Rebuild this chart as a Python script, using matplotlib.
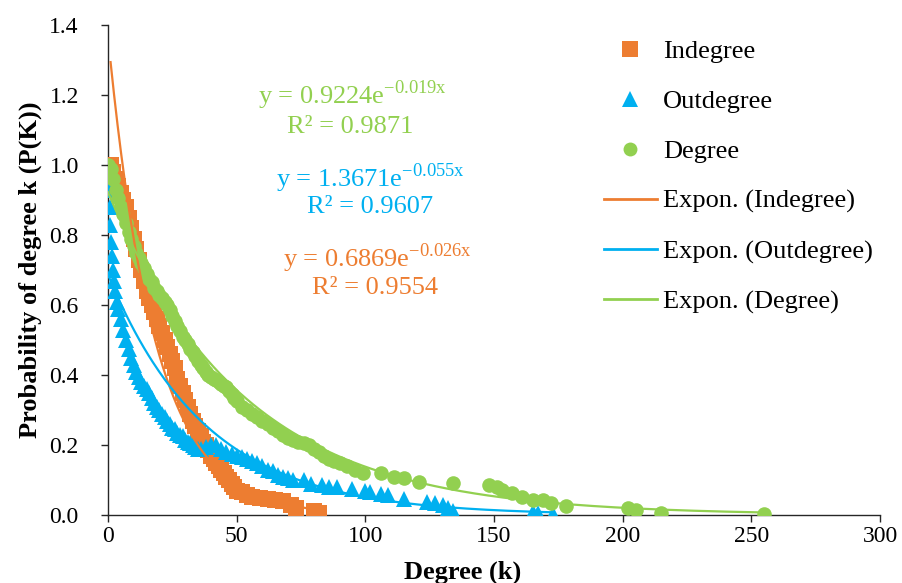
import numpy as np
import matplotlib
matplotlib.use("Agg")
import matplotlib.pyplot as plt
from matplotlib.lines import Line2D
from matplotlib.ticker import FormatStrFormatter

# colours of the three series
ORANGE = "#ED7D31"
BLUE = "#00B0F0"
GREEN = "#92D050"

# Indegree (orange squares)
in_x = [0, 1, 2, 3, 4, 5, 6, 7, 8, 9,
        10, 11, 12, 13, 14, 15, 16, 17, 18, 19,
        20, 21, 22, 23, 24, 25, 26, 27, 28, 29,
        30, 31, 32, 33, 34, 35, 36, 37, 38, 39,
        40, 41, 42, 43, 44, 45, 46, 47, 48, 49,
        50, 52, 54, 56, 59, 62, 65, 68, 71, 73,
        80, 82]
in_y = [1.00, 1.00, 0.98, 0.96, 0.94, 0.92, 0.90, 0.88, 0.85, 0.82,
        0.79, 0.76, 0.73, 0.70, 0.67, 0.64, 0.62, 0.60, 0.58, 0.56,
        0.54, 0.52, 0.50, 0.48, 0.46, 0.44, 0.42, 0.39, 0.37, 0.35,
        0.33, 0.31, 0.29, 0.27, 0.255, 0.24, 0.225, 0.21, 0.20, 0.185,
        0.17, 0.16, 0.15, 0.14, 0.13, 0.12, 0.11, 0.10, 0.09, 0.08,
        0.07, 0.065, 0.058, 0.052, 0.048, 0.045, 0.043, 0.04, 0.03, 0.02,
        0.012, 0.006]

# Outdegree (blue triangles)
out_x = [0, 0.3, 0.6, 0.9, 1.2, 1.5, 1.8, 2.2, 2.8, 3.5,
         4, 5, 6, 7, 8, 9, 10, 11, 12, 13,
         14, 15, 16, 17, 18, 19, 20, 21, 22, 23,
         24, 25, 26, 27, 28, 29, 30, 31, 32, 33,
         34, 35, 36, 38, 40, 42, 44, 46, 48, 50,
         52, 54, 56, 58, 60, 62, 64, 66, 68, 70,
         72, 76, 79, 83, 86, 89, 95, 100, 102, 106,
         109, 115, 124, 127, 130, 132, 134, 165, 167, 173]
out_y = [0.98, 0.93, 0.88, 0.83, 0.78, 0.74, 0.70, 0.67, 0.64, 0.61,
         0.59, 0.56, 0.53, 0.50, 0.475, 0.45, 0.43, 0.41, 0.395, 0.38,
         0.37, 0.36, 0.35, 0.335, 0.32, 0.31, 0.30, 0.29, 0.28, 0.27,
         0.26, 0.25, 0.245, 0.235, 0.23, 0.225, 0.215, 0.21, 0.205, 0.20,
         0.195, 0.19, 0.19, 0.195, 0.20, 0.20, 0.19, 0.18, 0.175, 0.17,
         0.165, 0.16, 0.155, 0.15, 0.14, 0.13, 0.125, 0.115, 0.11, 0.105,
         0.10, 0.10, 0.09, 0.085, 0.08, 0.08, 0.075, 0.07, 0.065, 0.06,
         0.058, 0.045, 0.037, 0.033, 0.028, 0.02, 0.012, 0.01, 0.006, 0.002]

# Degree (green circles)
deg_x = [0, 1, 2, 3, 4, 5, 6, 7, 8, 9,
         10, 11, 12, 13, 14, 15, 16, 17, 18, 19,
         20, 21, 22, 23, 24, 25, 26, 27, 28, 29,
         30, 31, 32, 33, 34, 35, 36, 37, 38, 39,
         40, 41, 42, 43, 44, 45, 46, 47, 48, 49,
         50, 52, 54, 56, 58, 60, 62, 64, 66, 68,
         70, 72, 74, 76, 78, 80, 82, 84, 86, 88,
         90, 93, 96, 99, 106, 111, 115, 121, 134, 148,
         151, 153, 157, 161, 165, 169, 172, 178, 202, 205,
         215, 255]
deg_y = [1.00, 0.99, 0.96, 0.93, 0.905, 0.88, 0.86, 0.835, 0.81, 0.79,
         0.77, 0.75, 0.735, 0.72, 0.705, 0.69, 0.675, 0.665, 0.65, 0.64,
         0.63, 0.62, 0.61, 0.60, 0.585, 0.57, 0.555, 0.54, 0.525, 0.51,
         0.50, 0.49, 0.475, 0.465, 0.455, 0.44, 0.43, 0.42, 0.41, 0.40,
         0.395, 0.39, 0.385, 0.38, 0.375, 0.37, 0.365, 0.355, 0.345, 0.335,
         0.325, 0.31, 0.30, 0.29, 0.28, 0.27, 0.26, 0.25, 0.24, 0.23,
         0.22, 0.215, 0.21, 0.205, 0.20, 0.19, 0.18, 0.17, 0.16, 0.155,
         0.15, 0.14, 0.13, 0.12, 0.12, 0.11, 0.105, 0.094, 0.091, 0.086,
         0.08, 0.071, 0.063, 0.051, 0.043, 0.043, 0.034, 0.026, 0.02, 0.014,
         0.006, 0.003]

# exponential trend lines y = a * exp(b x), as printed on the chart
trend_a = {"Indegree": 1.3671, "Outdegree": 0.6869, "Degree": 0.9224}
trend_b = {"Indegree": -0.055, "Outdegree": -0.026, "Degree": -0.019}

plt.rcParams["font.family"] = ["Liberation Serif", "DejaVu Serif"]
plt.rcParams["mathtext.fontset"] = "custom"
plt.rcParams["mathtext.rm"] = "Liberation Serif"

W, H = 902, 583
fig = plt.figure(figsize=(W / 100, H / 100), dpi=100)
ax = fig.add_axes([108 / W, 68 / H, 772 / W, 490 / H])

ax.plot(in_x, in_y, ls="none", marker="s", ms=11.5, mew=0, color=ORANGE, zorder=3)
ax.plot(out_x, out_y, ls="none", marker="^", ms=11, mew=0, color=BLUE, zorder=4)
ax.plot(deg_x, deg_y, ls="none", marker="o", ms=10.5, mew=0, color=GREEN, zorder=5)

series = [("Indegree", in_x, ORANGE, 1), ("Outdegree", out_x, BLUE, 0), ("Degree", deg_x, GREEN, 0)]
for name, xs, col, x0 in series:
    xx = np.linspace(x0, max(xs), 300)
    ax.plot(xx, trend_a[name] * np.exp(trend_b[name] * xx), color=col, lw=1.6, zorder=6)

ax.set_xlim(0, 300)
ax.set_ylim(0, 1.4)
ax.set_xticks(np.arange(0, 301, 50))
ax.set_yticks(np.arange(0, 1.41, 0.2))
ax.yaxis.set_major_formatter(FormatStrFormatter("%.1f"))
ax.tick_params(direction="out", length=5, width=1, colors="#262626", labelcolor="black", labelsize=17)
ax.tick_params(axis="y", pad=16)
ax.tick_params(axis="x", pad=3)
for s in ["top", "right"]:
    ax.spines[s].set_visible(False)
for s in ["left", "bottom"]:
    ax.spines[s].set_color("#262626")
    ax.spines[s].set_linewidth(1)

ax.set_xlabel("Degree (k)", fontsize=19, fontweight="bold", labelpad=10)
ax.xaxis.label.set_x((463 - 108) / 772)
ax.set_ylabel("Probability of degree k (P(K))", fontsize=19, fontweight="bold", labelpad=5)

# trend line equations (colours as in the original)
notes = [
    (352, 95, "y = 0.9224e$^{\\mathregular{\u22120.019x}}$", GREEN),
    (350, 127, "R\u00b2 = 0.9871", GREEN),
    (370, 178, "y = 1.3671e$^{\\mathregular{\u22120.055x}}$", BLUE),
    (370, 207, "R\u00b2 = 0.9607", BLUE),
    (377, 258, "y = 0.6869e$^{\\mathregular{\u22120.026x}}$", ORANGE),
    (375, 288, "R\u00b2 = 0.9554", ORANGE),
]
for px, py, txt, col in notes:
    fig.text(px / W, 1 - py / H, txt, color=col, fontsize=19, ha="center", va="center")

handles = [
    Line2D([], [], ls="none", marker="s", ms=12, mew=0, color=ORANGE),
    Line2D([], [], ls="none", marker="^", ms=11, mew=0, color=BLUE),
    Line2D([], [], ls="none", marker="o", ms=10, mew=0, color=GREEN),
    Line2D([], [], color=ORANGE, lw=2),
    Line2D([], [], color=BLUE, lw=2),
    Line2D([], [], color=GREEN, lw=2),
]
labels = ["Indegree", "Outdegree", "Degree",
          "Expon. (Indegree)", "Expon. (Outdegree)", "Expon. (Degree)"]
fig.legend(handles, labels, loc="upper left", bbox_to_anchor=(604 / W, 1 - 40 / H),
           frameon=False, fontsize=19, handlelength=2.0, handletextpad=0.25,
           labelspacing=1.0, borderpad=0, borderaxespad=0)

fig.savefig("out.png", dpi=100)
